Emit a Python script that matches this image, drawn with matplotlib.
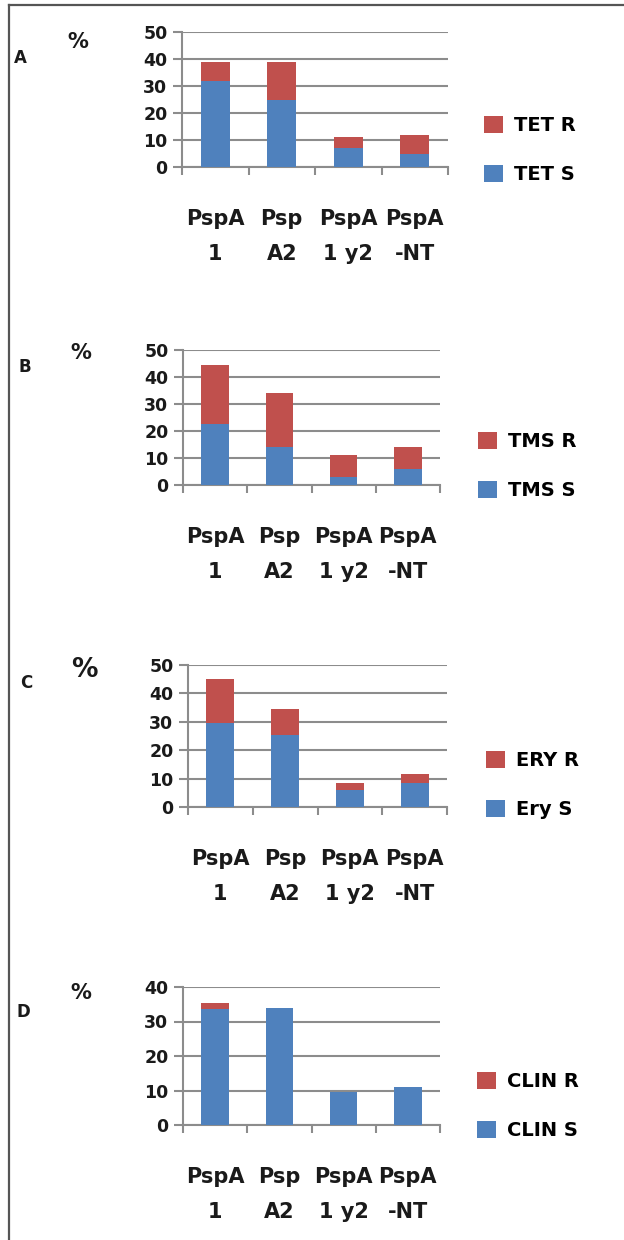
import numpy as np
import matplotlib
matplotlib.use('Agg')
import matplotlib.pyplot as plt
from matplotlib.lines import Line2D

# figure size in pixels
W = 624
H = 1240
DPI = 100

red = '#C0504D'
blue = '#4F81BD'
grid_c = '#8C8C8C'
txt_c = '#1a1a1a'

categories = ['PspA\n1', 'Psp\nA2', 'PspA\n1 y2', 'PspA\n-NT']

# percent of isolates, susceptible (S) and resistant (R) stacked
tet_s = [32, 25, 7, 5]
tet_r = [7, 14, 4, 7]
tms_s = [22.5, 14, 3, 6]
tms_r = [22, 20, 8, 8]
ery_s = [29.5, 25.5, 6, 8.5]
ery_r = [15.5, 9, 2.5, 3]
clin_s = [33.5, 34, 9.5, 11]
clin_r = [2, 0, 0, 0]

panel_letters = ['A', 'B', 'C', 'D']
legend_r = ['TET R', 'TMS R', 'ERY R', 'CLIN R']
legend_s = ['TET S', 'TMS S', 'Ery S', 'CLIN S']
y_max = [50, 50, 50, 40]

# layout, pixel units: left, right, y of top gridline, y of zero line
boxes = [(182, 448, 32, 167),
         (183, 440, 350, 485),
         (188, 447, 665, 807),
         (183, 440, 987, 1125)]
# letter (x, y), percent sign (x, y), legend anchor (x, y)
letter_pos = [(14, 58), (18, 367), (20, 683), (16, 1012)]
pct_pos = [(78, 42), (81, 353), (84, 670), (81, 993)]
leg_pos = [(484, 150), (478, 466), (486, 785), (477, 1106)]
pct_size = [15, 15, 19, 15]

plt.rcParams['font.family'] = ['DejaVu Sans']

fig = plt.figure(figsize=(W / DPI, H / DPI), dpi=DPI)

S_all = [tet_s, tms_s, ery_s, clin_s]
R_all = [tet_r, tms_r, ery_r, clin_r]

for i in range(4):
    l, r, t, b = boxes[i]
    ax = fig.add_axes([l / W, 1 - b / H, (r - l) / W, (b - t) / H])
    x = np.arange(len(categories))
    pS = ax.bar(x, S_all[i], width=0.43, color=blue, zorder=3)
    pR = ax.bar(x, R_all[i], width=0.43, bottom=S_all[i], color=red, zorder=3)

    ax.set_xlim(-0.5, len(categories) - 0.5)
    ax.set_ylim(0, y_max[i])
    ax.set_yticks(np.arange(0, y_max[i] + 1, 10))
    ax.yaxis.grid(True, color=grid_c, linewidth=1.5, zorder=0)
    ax.set_axisbelow(True)
    for side in ['top', 'right']:
        ax.spines[side].set_visible(False)
    for side in ['left', 'bottom']:
        ax.spines[side].set_color(grid_c)
        ax.spines[side].set_linewidth(1.5)

    # category boundaries as major ticks, labels on minor ticks
    ax.set_xticks(np.arange(-0.5, len(categories), 1.0))
    ax.set_xticklabels([])
    ax.set_xticks(x, categories, minor=True)
    ax.tick_params(axis='x', which='major', length=6, width=1.5, color=grid_c, direction='out')
    ax.tick_params(axis='x', which='minor', length=0, pad=30)
    ax.tick_params(axis='y', length=6.5, width=1.5, color=grid_c, pad=4)
    for lab in ax.get_xticklabels(minor=True):
        lab.set_fontsize(15)
        lab.set_fontweight('bold')
        lab.set_linespacing(1.95)
        lab.set_color(txt_c)
    for lab in ax.get_yticklabels():
        lab.set_fontsize(12.5)
        lab.set_fontweight('bold')
        lab.set_color(txt_c)

    lx, ly = leg_pos[i]
    ax.legend([pR, pS], [legend_r[i], legend_s[i]], loc='center left',
              bbox_to_anchor=(lx / W, 1 - ly / H), bbox_transform=fig.transFigure,
              frameon=False, borderpad=0, borderaxespad=0,
              handlelength=1.0, handleheight=1.0, handletextpad=0.55,
              labelspacing=1.55, prop={'size': 14, 'weight': 'bold'})

    px, py = letter_pos[i]
    fig.text(px / W, 1 - py / H, panel_letters[i], fontsize=12, fontweight='bold',
             ha='left', va='center', color=txt_c)
    qx, qy = pct_pos[i]
    fig.text(qx / W, 1 - qy / H, '%', fontsize=pct_size[i], fontweight='bold',
             ha='center', va='center', color=txt_c)

# page frame, top and left edges
fig.add_artist(Line2D([9 / W, 1], [1 - 5 / H, 1 - 5 / H], color='#555555', linewidth=1.6))
fig.add_artist(Line2D([9 / W, 9 / W], [1 - 5 / H, 0], color='#555555', linewidth=1.6))

plt.savefig('out.png', dpi=DPI)
